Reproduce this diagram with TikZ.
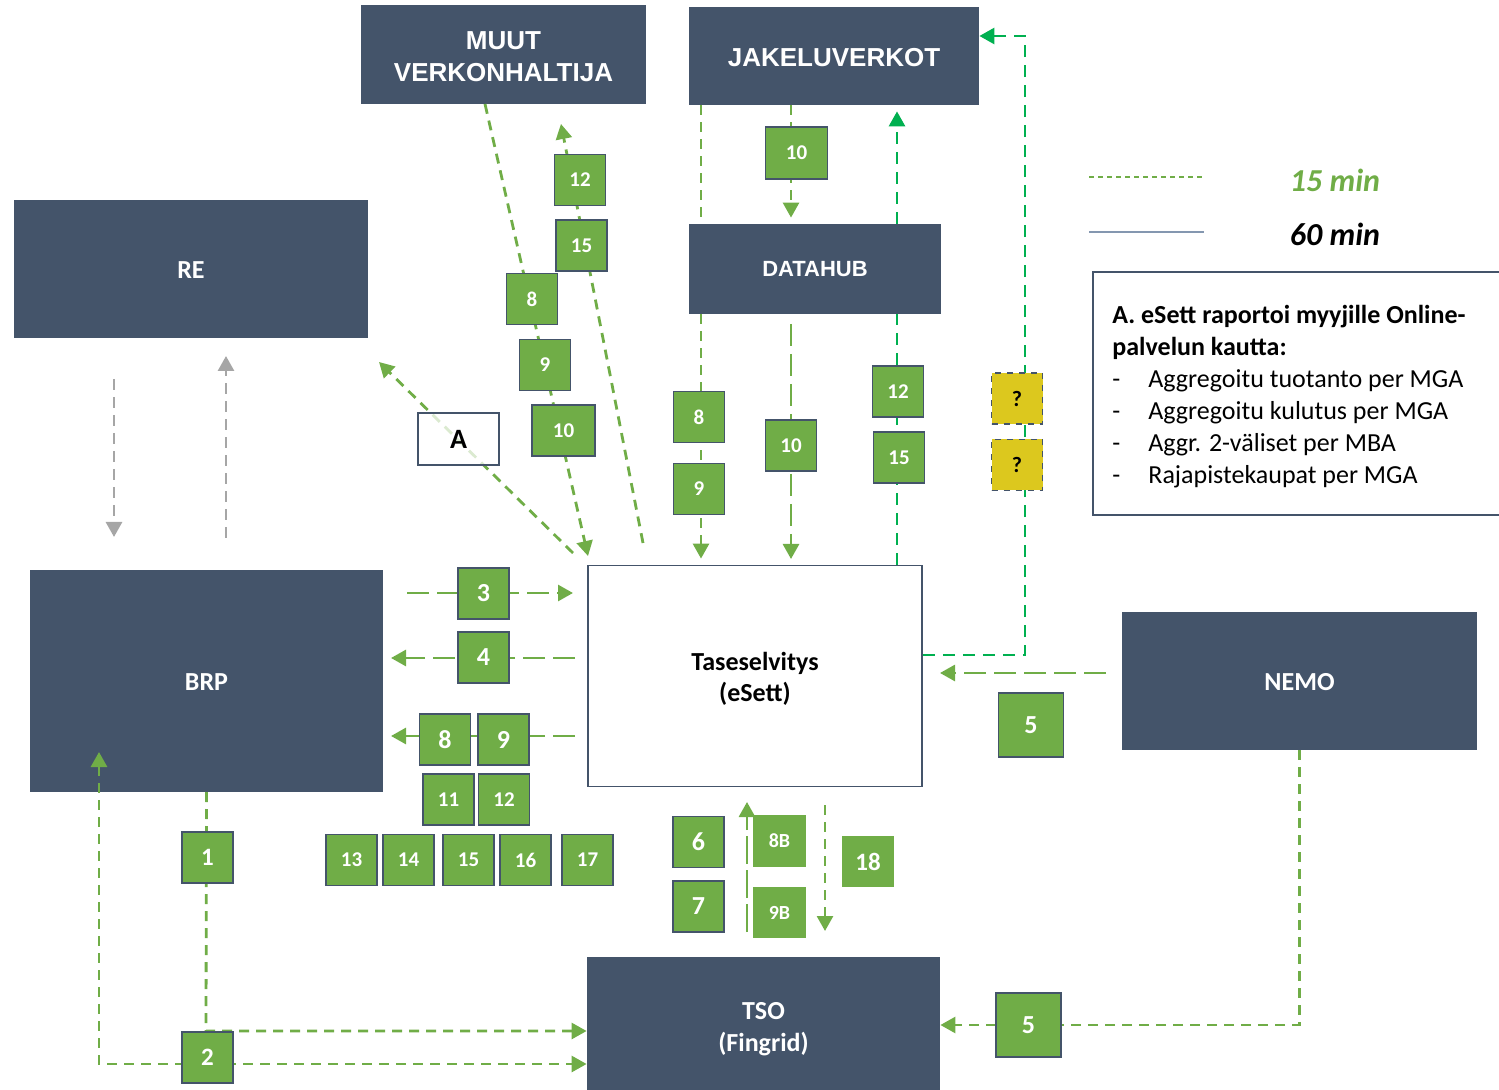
\documentclass[tikz,border=0pt]{standalone}
\usepackage{fontspec}
\setmainfont{Carlito}
\newfontfamily\arialf{Liberation Sans}
\usetikzlibrary{arrows.meta}
\definecolor{darkbox}{HTML}{44546A}
\definecolor{lgreen}{HTML}{70AD47}
\definecolor{bgreen}{HTML}{00B050}
\definecolor{ybox}{HTML}{DCC81E}
\definecolor{grayarr}{HTML}{A6A6A6}
\definecolor{legline}{HTML}{8497B0}
\begin{document}
\begin{tikzpicture}[x=0.5pt,y=-0.5pt,
  orgbox/.style={fill=darkbox,draw=none,text=white,inner sep=0pt,align=center,font=\bfseries\fontsize{13}{16}\selectfont},
  arialbox/.style={orgbox,font=\arialf\bfseries\fontsize{13}{16}\selectfont},
  whitebox/.style={fill=white,draw=darkbox,line width=0.9pt,text=black,inner sep=0pt,align=center,font=\bfseries\fontsize{13}{15.5}\selectfont},
  boxtext/.style={inner sep=0pt,align=center},
  numbox/.style={fill=lgreen,draw=darkbox,line width=0.9pt,text=white,inner sep=0pt,font=\bfseries\fontsize{10.5}{12}\selectfont,minimum width=25.5pt,minimum height=25.5pt},
  bignum/.style={numbox,font=\bfseries\fontsize{13}{15}\selectfont},
  qbox/.style={fill=ybox,draw=darkbox,dashed,line width=0.8pt,text=black,inner sep=0pt,font=\bfseries\fontsize{11}{12}\selectfont,minimum width=25.5pt,minimum height=25.5pt},
  conn/.style={draw=lgreen,line width=1.4pt,dash pattern=on 5pt off 3.5pt},
  connl/.style={conn,dash pattern=on 11pt off 4pt},
  bconn/.style={draw=bgreen,line width=1.4pt,dash pattern=on 6pt off 4pt},
  gconn/.style={draw=grayarr,line width=1.4pt,dash pattern=on 5.5pt off 3.5pt},
  arr/.style={-{Triangle[length=7.5pt,width=8pt]}}
]
\useasboundingbox (0,0) rectangle (1499,1090);

% ---- main boxes
\node[arialbox,minimum width=142.5pt,minimum height=49.5pt] (muut) at (503.5,54.5) {};
\node[boxtext,text=white,font=\arialf\bfseries\fontsize{13}{16}\selectfont] (muuttext) at ([yshift=-1pt]muut.center) {MUUT\\VERKONHALTIJA};
\node[arialbox,minimum width=145pt,minimum height=49pt] (jakelu) at (834,56) {};
\node[boxtext,text=white,font=\arialf\bfseries\fontsize{13}{16}\selectfont] (jakelutext) at ([yshift=-1pt]jakelu.center) {JAKELUVERKOT};
\node[arialbox,font=\arialf\bfseries\fontsize{11}{13}\selectfont,minimum width=126pt,minimum height=45pt] (datahub) at (815,269) {DATAHUB};
\node[orgbox,minimum width=177pt,minimum height=69pt] (re) at (191,269) {};
\node[boxtext,text=white,font=\bfseries\fontsize{13}{16}\selectfont] (retext) at ([yshift=-0.5pt]re.center) {RE};
\node[orgbox,minimum width=176.5pt,minimum height=111pt] (brp) at (206.5,681) {};
\node[boxtext,text=white,font=\bfseries\fontsize{13}{16}\selectfont] (brptext) at ([yshift=-0.5pt]brp.center) {BRP};
\node[whitebox,minimum width=167pt,minimum height=110.5pt] (tase) at (755,676) {};
\node[boxtext,text=black,font=\bfseries\fontsize{13}{15.5}\selectfont] (tasetext) at ([yshift=-1.5pt]tase.center) {Taseselvitys\\(eSett)};
\node[orgbox,minimum width=177.5pt,minimum height=69pt] (nemo) at (1299.5,681) {};
\node[boxtext,text=white,font=\bfseries\fontsize{13}{16}\selectfont] (nemotext) at ([yshift=-0.5pt]nemo.center) {NEMO};
\node[orgbox,minimum width=176.5pt,minimum height=69pt] (tso) at (763.5,1026) {};
\node[boxtext,text=white,font=\bfseries\fontsize{13}{16}\selectfont] (tsotext) at ([yshift=-1.5pt]tso.center) {TSO\\(Fingrid)};

% ---- free-end coordinates
\coordinate (m1) at (485,104);   \coordinate (m1e) at (588,556);
\coordinate (m2) at (643,543);   \coordinate (m2e) at (561,124);
\coordinate (a1) at (573,553);   \coordinate (a1e) at (379,362);
\coordinate (g1) at (114,379);   \coordinate (g1e) at (114,537);
\coordinate (g2) at (226,538);   \coordinate (g2e) at (226,356);
\coordinate (d1) at (791,324);   \coordinate (d1e) at (791,559);
\coordinate (h3) at (407,593);   \coordinate (h3e) at (573,593);
\coordinate (h4) at (575,658);   \coordinate (h4e) at (391,658);
\coordinate (h8) at (575,736);   \coordinate (h8e) at (391,736);
\coordinate (nt) at (1106,673);  \coordinate (nte) at (940,673);
\coordinate (u8) at (747,932);   \coordinate (u8e) at (747,802);
\coordinate (d18) at (825,805);  \coordinate (d18e) at (825,931);
\coordinate (bl) at (99,752);

% ---- connectors
\draw[conn,arr] (m1) -- (m1e);
\draw[conn,arr] (m2) -- (m2e);
\draw[conn,arr] (a1) -- (a1e);
\draw[gconn,arr] (g1) -- (g1e);
\draw[gconn,arr] (g2) -- (g2e);
\draw[conn] (jakelu.south -| 701,0) -- (datahub.north -| 701,0);
\draw[conn,arr] (datahub.south -| 701,0) -- ([yshift=3pt]tase.north -| 701,0);
\draw[conn,arr] (jakelu.south -| 791,0) -- ([yshift=3pt]datahub.north -| 791,0);
\draw[connl,arr] (d1) -- (d1e);
\draw[bconn] (tase.north -| 897,0) -- (datahub.south -| 897,0);
\draw[bconn,arr] (datahub.north -| 897,0) -- ([yshift=-3pt]jakelu.south -| 897,0);
\draw[bconn,arr] (tase.east |- 0,655) -- (1025,655) -- (1025,36) -- (jakelu.east |- 0,36);
\draw[connl,arr] (h3) -- (h3e);
\draw[connl,arr] (h4) -- (h4e);
\draw[connl,arr] (h8) -- (h8e);
\draw[connl,arr] (nt) -- (nte);
\draw[conn,arr] (nemo.south) -- (nemo.south |- 0,1025) -- (tso.east |- 0,1025);
\draw[conn,arr] (brp.south |- 0,792) -- (206,1031) -- (tso.west |- 0,1031);
\draw[conn,{Triangle[length=7.5pt,width=8pt]}-{Triangle[length=7.5pt,width=8pt]}] (bl) -- (99,1064) -- (tso.west |- 0,1064);
\draw[conn,dash pattern=on 14pt off 3pt,arr] (u8) -- (u8e);
\draw[conn,arr] (d18) -- (d18e);

% ---- number boxes
\node[numbox] (t12) at (580,180) {12};
\node[numbox] (t15) at (581.5,245.5) {15};
\node[numbox] (t8) at (532,299) {8};
\node[numbox] (t9) at (545,365) {9};
\node[numbox,minimum width=31.5pt] (t10) at (563.5,430.5) {10};
\node[whitebox,fill opacity=0.75,text opacity=1,font=\bfseries\fontsize{14}{16}\selectfont,minimum width=40.5pt,minimum height=26pt] (abox) at (458.5,439) {A};
\node[numbox,minimum width=31pt,minimum height=26pt] (j10) at (796.5,153) {10};
\node[numbox] (d8) at (699,417) {8};
\node[numbox] (d9) at (699,489) {9};
\node[numbox] (d10) at (791,445.5) {10};
\node[numbox] (r12) at (898,391.5) {12};
\node[numbox] (r15) at (899,457.5) {15};
\node[qbox] (q1) at (1017,398.5) {?};
\node[qbox] (q2) at (1017,465) {?};
\node[bignum] (n3) at (483.5,593.5) {3};
\node[bignum] (n4) at (483.5,657.5) {4};
\node[bignum] (n8) at (445,739.5) {8};
\node[bignum] (n9) at (503.5,739.5) {9};
\node[numbox] (n11) at (448.5,799.5) {11};
\node[numbox] (n12) at (504,799.5) {12};
\node[numbox] (n13) at (351.5,860) {13};
\node[numbox] (n14) at (408.5,860) {14};
\node[numbox] (n15) at (468.5,860) {15};
\node[numbox] (n16) at (525.5,860) {16};
\node[numbox] (n17) at (587.5,860) {17};
\node[bignum,font=\bfseries\fontsize{12.5}{14}\selectfont] (n1) at (207.5,857.5) {1};
\node[bignum,font=\bfseries\fontsize{12.5}{14}\selectfont] (n2) at (207.5,1057.5) {2};
\node[bignum] (n6) at (698.5,842) {6};
\node[bignum] (n7) at (698.5,906.5) {7};
\node[numbox,draw=none,font=\bfseries\fontsize{10}{12}\selectfont,minimum width=26.5pt,minimum height=26pt] (b8) at (779.5,841) {8B};
\node[numbox,draw=none,font=\bfseries\fontsize{10}{12}\selectfont,minimum width=26.5pt,minimum height=25.5pt] (b9) at (779.5,912.5) {9B};
\node[bignum,draw=none,font=\bfseries\fontsize{12.5}{14}\selectfont,minimum width=26pt] (n18) at (868,861.5) {18};
\node[bignum,minimum width=32.5pt,minimum height=32pt] (n5a) at (1031,725) {5};
\node[bignum,minimum width=32.5pt,minimum height=32pt] (n5b) at (1028.5,1025) {5};

% ---- legend
\coordinate (lg1) at (1089,177); \coordinate (lg1e) at (1202,177);
\coordinate (lg2) at (1089,232); \coordinate (lg2e) at (1204,232);
\draw[lgreen,line width=0.6pt,dash pattern=on 2.5pt off 2pt] (lg1) -- (lg1e);
\draw[legline,line width=0.9pt] (lg2) -- (lg2e);
\node[text=lgreen,font=\bfseries\itshape\fontsize{16}{18}\selectfont,inner sep=0pt] (l15) at (1335,180) {15 min};
\node[text=black,font=\bfseries\itshape\fontsize{16}{18}\selectfont,inner sep=0pt] (l60) at (1335,234) {60 min};

% ---- note box
\node[draw=darkbox,line width=1pt,anchor=north west,inner sep=0pt,minimum width=209pt,minimum height=121.5pt] (notebox) at (1092,271) {};
\node[anchor=north west,align=left,inner sep=0pt,font=\fontsize{13}{16}\selectfont] (notetext) at (1112,305)
 {\textbf{A. eSett raportoi myyjille Online-}\\
  \textbf{palvelun kautta:}\\
  \makebox[18pt][l]{-}Aggregoitu tuotanto per MGA\\
  \makebox[18pt][l]{-}Aggregoitu kulutus per MGA\\
  \makebox[18pt][l]{-}Aggr. 2-väliset per MBA\\
  \makebox[18pt][l]{-}Rajapistekaupat per MGA};
\end{tikzpicture}
\end{document}
